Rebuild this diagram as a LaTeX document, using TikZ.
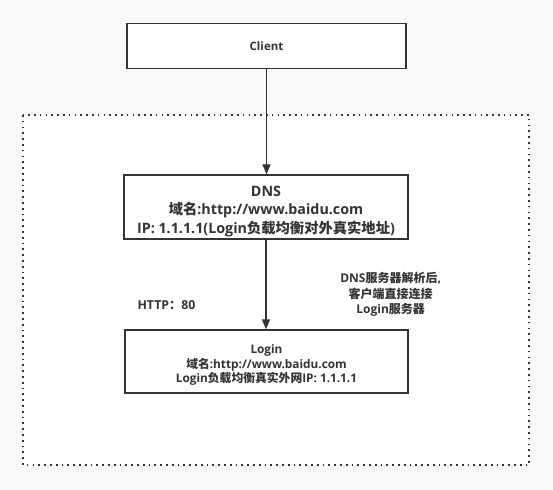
\documentclass[tikz,border=0pt]{standalone}
\usepackage{fontspec}
\setmainfont{Open Sans}
\newfontfamily\zhfont{Noto Sans CJK SC}
\newcommand{\zh}[1]{{\zhfont\bfseries #1}}
\newcommand{\tightlines}{\lineskiplimit=-20pt\relax\lineskip=0pt\relax}
\usetikzlibrary{arrows.meta,shadows}
\definecolor{bgc}{HTML}{F9F9F9}
\definecolor{ink}{HTML}{333333}
\tikzset{
  box/.style={draw=ink, line width=1.4pt, fill=white, text=ink, align=center,
    inner sep=0pt, drop shadow={shadow xshift=0.8pt, shadow yshift=-0.8pt, fill=black!22, opacity=1}},
  flow/.style={draw=ink, line width=1.4pt, -{Triangle[length=10pt,width=8pt]}},
  lbl/.style={text=ink, align=center, inner sep=0pt},
  zonebox/.style={draw=ink, line width=1.7pt, dash pattern=on 1.7pt off 4.1pt, fill=white}
}
\begin{document}
\begin{tikzpicture}[x=1pt,y=-1pt]
\fill[bgc] (0,0) rectangle (553,489);
\useasboundingbox (0,0) rectangle (553,489);
\draw[zonebox] (23,115) rectangle (529,465);
\node[box, minimum width=279pt, minimum height=45pt,
  font=\fontsize{11.5}{14}\selectfont\bfseries] (client) at (266.5,45.75) {Client};
\node[box, minimum width=284pt, minimum height=64pt] (dns) at (266,207) {};
\node[lbl, font={\fontsize{14.3}{18.6}\selectfont\bfseries\tightlines}] (dnstxt) at ([yshift=-4.5pt]dns.center)
  {DNS\\\zh{域名}:http://www.baidu.com\\IP: 1.1.1.1(Login\zh{负载均衡对外真实地址})};
\node[box, minimum width=283pt, minimum height=63pt] (login) at (266.5,361.5) {};
\node[lbl, font={\fontsize{11.8}{14.5}\selectfont\bfseries\tightlines}] (logintxt) at ([yshift=-3.5pt]login.center)
  {Login\\\zh{域名}:http://www.baidu.com\\Login\zh{负载均衡真实外网}IP: 1.1.1.1};
\node[lbl, font=\fontsize{12.3}{14}\selectfont\bfseries] (http) at (166.5,305) {HTTP\zh{：}80};
\node[lbl, font={\fontsize{12}{15.5}\selectfont\bfseries\tightlines}] (note) at (390.7,294.5)
  {DNS\zh{服务器解析后},\\\zh{客户端直接连接}\\Login\zh{服务器}};
\draw[flow] (client.south) -- (client.south |- dns.north);
\draw[flow] (dns.south) -- (dns.south |- login.north);
\end{tikzpicture}
\end{document}
